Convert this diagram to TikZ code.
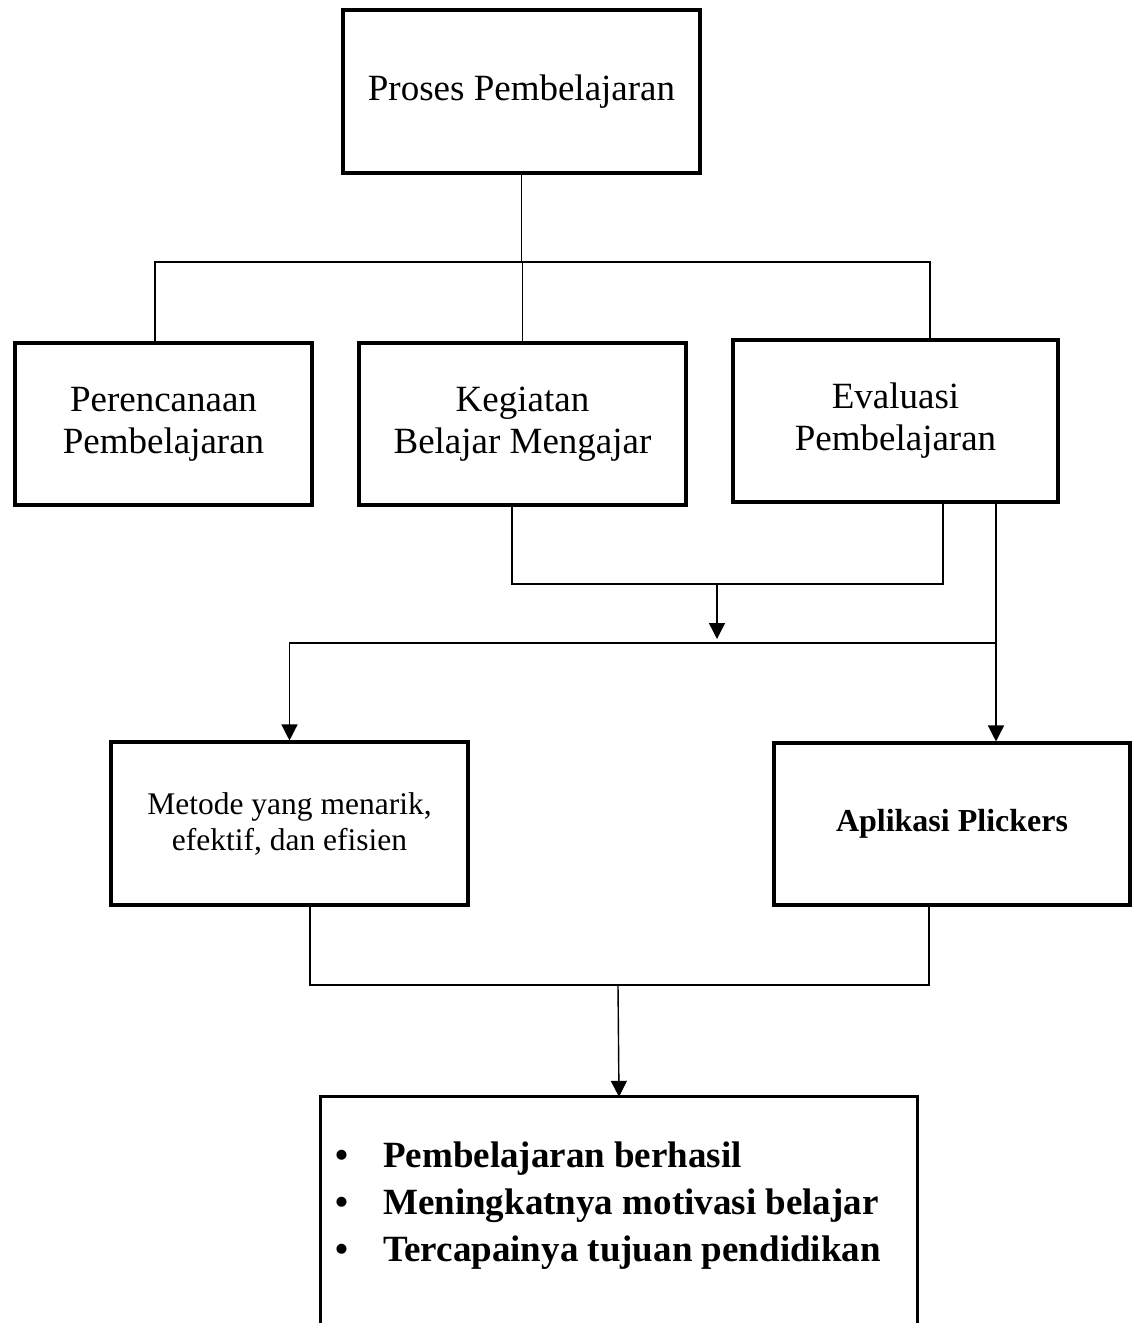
\documentclass[tikz,border=0pt]{standalone}
\usepackage{fontspec}
\setmainfont{Liberation Serif}
\usetikzlibrary{arrows.meta}
\begin{document}
\begin{tikzpicture}[x=1pt,y=-1pt,
  box/.style={draw,line width=3.1pt,inner sep=0pt,align=center,font=\fontsize{37}{42}\selectfont},
  smallbox/.style={box,font=\fontsize{31.5}{36}\selectfont},
  boldbox/.style={box,font=\bfseries\fontsize{32}{38}\selectfont},
  conn/.style={line width=1.4pt},
  arr/.style={line width=1.4pt,-{Triangle[width=16pt,length=16pt]}}]
\useasboundingbox (0,0) rectangle (1139,1323);

% boxes
\node[box,minimum width=357pt,minimum height=163pt] (top) at (521.5,91.5) {\raisebox{-3pt}{Proses Pembelajaran}};
\node[box,minimum width=297pt,minimum height=162pt] (per) at (163.5,424) {Perencanaan\\Pembelajaran};
\node[box,minimum width=327pt,minimum height=162pt] (keg) at (522.5,424) {Kegiatan\\Belajar Mengajar};
\node[box,minimum width=325pt,minimum height=162pt] (eva) at (895.5,421) {Evaluasi\\Pembelajaran};
\node[smallbox,minimum width=357pt,minimum height=163pt] (met) at (289.5,823.5) {Metode yang menarik,\\efektif, dan efisien};
\node[boldbox,minimum width=356pt,minimum height=162pt] (apl) at (952,824) {Aplikasi Plickers};
\node[minimum width=596pt,minimum height=240pt,inner sep=0pt] (res) at (619,1217) {};
\draw[line width=3.1pt] (res.south west) -- (res.north west) -- (res.north east) -- (res.south east);
\node[anchor=west,inner sep=0pt,font=\bfseries\fontsize{37}{47}\selectfont] (list) at (335,1205)
  {\begin{tabular}{@{}p{48pt}@{}l@{}}
   \textbullet & Pembelajaran berhasil\\
   \textbullet & Meningkatnya motivasi belajar\\
   \textbullet & Tercapainya tujuan pendidikan
   \end{tabular}};

% level 1 connectors
\coordinate (h1) at (522,262);
\draw[conn] (top.south) -- (top.south |- h1);
\draw[conn] ([xshift=-8.5pt]per.north) |- (h1) -| ([xshift=34.5pt]eva.north);
\draw[conn] (keg.north) -- (keg.north |- h1);

% level 2 connectors
\coordinate (h2) at (717,584);
\coordinate (h2e) at (717,639);
\draw[conn] ([xshift=-10.5pt]keg.south) |- (h2) -| ([xshift=47.5pt]eva.south);
\draw[arr] (h2) -- (h2e);
\coordinate (h3) at (996,643);
\draw[arr] (h3) -| (met.north);
\draw[arr] ([xshift=100.5pt]eva.south) -- ([xshift=44pt]apl.north);

% level 3 connectors
\coordinate (h4) at (618,985);
\draw[conn] ([xshift=20.5pt]met.south) |- (h4) -| ([xshift=-23pt]apl.south);
\draw[arr] (h4) -- (res.north);
\end{tikzpicture}
\end{document}
